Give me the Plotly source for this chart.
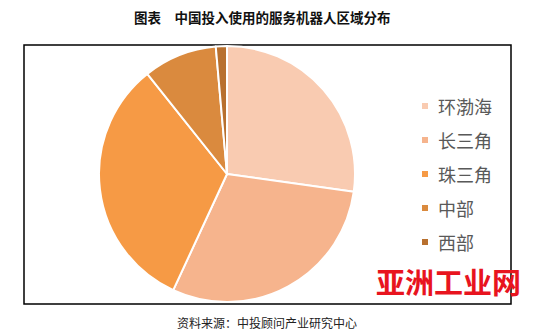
import plotly.graph_objects as go

W, H = 533, 334

regions = ["环渤海", "长三角", "珠三角", "中部", "西部"]
shares = [27.2, 29.7, 32.4, 9.3, 1.4]
colors = ["#F9CBB1", "#F6B48D", "#F69A45", "#DA8A3E", "#B8702E"]

title_text = "图表　中国投入使用的服务机器人区域分布"
source_text = "资料来源：中投顾问产业研究中心"
watermark_text = "亚洲工业网"

def px_x(x):
    return x / W

def px_y(y):
    return 1 - y / H

fig = go.Figure()
fig.add_trace(go.Pie(
    labels=regions,
    values=shares,
    sort=False,
    direction="clockwise",
    rotation=0,
    marker=dict(colors=colors, line=dict(color="white", width=2)),
    textinfo="none",
    hoverinfo="label+percent",
    showlegend=False,
    domain=dict(x=[px_x(99), px_x(355)], y=[px_y(302), px_y(46)]),
))

shapes = [dict(type="rect", xref="paper", yref="paper",
               x0=px_x(24), x1=px_x(511), y0=px_y(304), y1=px_y(45),
               line=dict(color="black", width=1.5), layer="below")]
annotations = []

# manual legend (items spaced like the reference)
leg_x_marker = 425
leg_x_text = 436
leg_y0 = 106
leg_dy = 34
for i, (lab, col) in enumerate(zip(regions, colors)):
    yc = leg_y0 + i * leg_dy
    shapes.append(dict(type="rect", xref="paper", yref="paper",
                       x0=px_x(leg_x_marker - 3), x1=px_x(leg_x_marker + 3),
                       y0=px_y(yc + 3), y1=px_y(yc - 3),
                       fillcolor=col, line=dict(width=0)))
    annotations.append(dict(text=lab, xref="paper", yref="paper",
                            x=px_x(leg_x_text), y=px_y(yc), xanchor="left", yanchor="middle",
                            showarrow=False,
                            font=dict(family="Noto Sans CJK SC", size=18, color="#595959")))

annotations.append(dict(text="<b>" + title_text + "</b>", xref="paper", yref="paper",
                        x=px_x(262), y=px_y(17), xanchor="center", yanchor="middle",
                        showarrow=False,
                        font=dict(family="Noto Sans CJK SC", size=13.5, color="#111111")))
annotations.append(dict(text=source_text, xref="paper", yref="paper",
                        x=px_x(267), y=px_y(322), xanchor="center", yanchor="middle",
                        showarrow=False,
                        font=dict(family="Noto Sans CJK SC", size=12, color="#222222")))
annotations.append(dict(text="<b>" + watermark_text + "</b>", xref="paper", yref="paper",
                        x=px_x(448), y=px_y(281), xanchor="center", yanchor="middle",
                        showarrow=False,
                        font=dict(family="Noto Sans CJK SC", size=29, color="#E8141E")))

fig.update_layout(
    width=W, height=H,
    margin=dict(l=0, r=0, t=0, b=0),
    paper_bgcolor="white", plot_bgcolor="white",
    shapes=shapes, annotations=annotations,
    showlegend=False,
)

fig.write_html("out.html")
